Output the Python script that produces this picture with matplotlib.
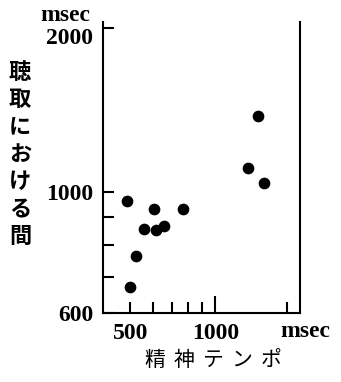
import numpy as np
import matplotlib
matplotlib.use("Agg")
import matplotlib.pyplot as plt

# data (msec)
tempo = np.array([487, 605, 767, 559, 615, 660, 522, 498, 1305, 1416, 1494])    # 精神テンポ
interval = np.array([963, 931, 931, 856, 853, 867, 763, 671, 1108, 1376, 1040])  # 聴取における間

x_major = [500, 1000]
x_minor = [600, 700, 800, 900, 1800]
y_major = [600, 1000, 2000]
y_minor = [700, 800, 900]

jp = ['Noto Sans CJK JP', 'DejaVu Sans']
num = dict(family='Liberation Serif', weight='bold', size=17)

fig = plt.figure(figsize=(3.41, 3.82), dpi=100)
ax = fig.add_axes([0.302, 0.1806, 0.578, 0.7618])

ax.scatter(tempo, interval, s=55, color='black', zorder=3)

ax.set_xscale('log')
ax.set_yscale('log')
ax.set_xlim(400, 2000)
ax.set_ylim(600, 2050)

ax.set_xticks(x_major)
ax.set_xticklabels([str(v) for v in x_major], **num)
ax.set_xticks(x_minor, minor=True)
ax.set_xticklabels([], minor=True)
ax.set_yticks(y_major)
ax.set_yticklabels([str(v) for v in y_major], **num)
ax.set_yticks(y_minor, minor=True)
ax.set_yticklabels([], minor=True)

ax.tick_params(which='both', direction='in', width=1.5, length=8, color='black')
ax.tick_params(axis='x', which='major', pad=7)
ax.tick_params(axis='y', which='major', pad=7)
ax.xaxis.get_major_ticks()[1].tick1line.set_markersize(12)  # longer tick at 1000
ax.yaxis.get_major_ticks()[2].label1.set_va('top')

ax.spines['top'].set_visible(False)
for s in ['left', 'right', 'bottom']:
    ax.spines[s].set_linewidth(1.5)

# units
ax.text(1.025, -0.065, 'msec', transform=ax.transAxes, ha='center', va='center', **num)
ax.text(-0.19, 1.024, 'msec', transform=ax.transAxes, ha='center', va='center', **num)

# axis titles
fig.text(0.059, 0.596, '\n'.join('聴取における間'), ha='center', va='center',
         family=jp, weight='bold', size=16, linespacing=1.24)
for i, ch in enumerate('精神テンポ'):
    fig.text((155 + i * 29) / 341, 1 - 360 / 382, ch, ha='center', va='center',
             family=jp, size=15)

fig.savefig('out.png', dpi=100)
